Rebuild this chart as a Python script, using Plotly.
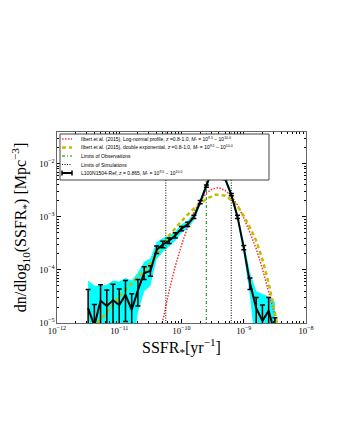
import numpy as np
import plotly.graph_objects as go

# log10 SSFR bin centres of the simulation histogram
sim_log_ssfr = [-11.5, -11.4, -11.3, -11.2, -11.1, -11.0, -10.9, -10.8, -10.7, -10.6,
                -10.5, -10.4, -10.3, -10.2, -10.1, -10.0, -9.9, -9.8, -9.7, -9.6,
                -9.5, -9.4, -9.3, -9.2, -9.1, -9.0, -8.9, -8.8, -8.7, -8.6, -8.5]
# log10 dn/dlog10(SSFR)
sim_log_phi = [-4.72, -5.05, -4.58, -4.68, -4.57, -4.66, -4.47, -4.75, -4.38, -4.06,
               -4.02, -3.62, -3.52, -3.45, -3.35, -3.22, -3.14, -3.00, -2.72, -2.42,
               -2.10, -1.90, -2.28, -2.58, -3.00, -3.58, -4.25, -4.72, -4.96, -4.77, -5.20]
# poisson error bars (dex)
sim_err_up = [0.35, 0.40, 0.30, 0.30, 0.30, 0.30, 0.27, 0.30, 0.20, 0.12,
              0.10, 0.07, 0.06, 0.05, 0.05, 0.04, 0.04, 0.03, 0.03, 0.02,
              0.02, 0.02, 0.02, 0.02, 0.03, 0.04, 0.10, 0.20, 0.30, 0.25, 0.30]
sim_err_lo = [1.0, 1.0, 1.0, 1.0, 1.0, 1.0, 0.5, 1.0, 0.30, 0.12,
              0.10, 0.07, 0.06, 0.05, 0.05, 0.04, 0.04, 0.03, 0.03, 0.02,
              0.02, 0.02, 0.02, 0.02, 0.03, 0.04, 0.12, 0.30, 1.0, 1.0, 1.0]
# shaded range (log10)
band_upper = [-4.20, -4.30, -4.30, -4.28, -4.20, -4.22, -4.15, -4.20, -4.05, -3.85,
              -3.78, -3.48, -3.40, -3.36, -3.27, -3.14, -3.07, -2.93, -2.66, -2.37,
              -2.06, -1.86, -2.24, -2.53, -2.94, -3.48, -4.05, -4.40, -4.45, -4.50, -4.60]
band_lower = [-5.6, -5.6, -5.6, -5.6, -5.6, -5.6, -5.6, -5.6, -4.80, -4.40,
              -4.30, -3.80, -3.66, -3.56, -3.45, -3.30, -3.22, -3.07, -2.79, -2.48,
              -2.15, -1.95, -2.33, -2.64, -3.07, -3.70, -4.50, -5.6, -5.6, -5.6, -5.6]

# Ilbert et al. (2015) log-normal
lognorm_log_ssfr = [-10.4, -10.3, -10.2, -10.1, -10.0, -9.9, -9.8, -9.7, -9.6, -9.5,
                    -9.4, -9.3, -9.2, -9.1, -9.0, -8.9, -8.8, -8.7, -8.6, -8.5, -8.45]
lognorm_log_phi = [-5.5, -4.94, -4.40, -3.93, -3.53, -3.19, -2.91, -2.70, -2.55, -2.47,
                   -2.45, -2.50, -2.61, -2.78, -3.02, -3.30, -3.60, -3.98, -4.40, -4.85, -5.1]

# Ilbert et al. (2015) double exponential
dexp_log_ssfr = [-11.35, -11.2, -11.0, -10.8, -10.6, -10.4, -10.2, -10.0, -9.8, -9.6,
                 -9.45, -9.3, -9.2, -9.1, -9.0, -8.9, -8.8, -8.7, -8.6, -8.5, -8.45]
dexp_log_phi = [-5.0, -4.80, -4.50, -4.25, -4.02, -3.72, -3.35, -3.08, -2.84, -2.66,
                -2.58, -2.60, -2.68, -2.80, -2.98, -3.20, -3.45, -3.80, -4.25, -4.80, -5.1]

obs_limits = [2.5e-10]
sim_limits = [5.6e-11, 6.3e-10]

legend_labels = [
    "Ilbert et al. (2015), Log-normal profile, <i>z</i> =0.8-1.0, <i>M</i><sub>*</sub> = 10<sup>9.5</sup> − 10<sup>10.0</sup>",
    "Ilbert et al. (2015), double exponential, <i>z</i> =0.8-1.0, <i>M</i><sub>*</sub> = 10<sup>9.5</sup> − 10<sup>10.0</sup>",
    "Limits of Observations",
    "Limits of Simulations",
    "L100N1504-Ref, <i>z</i> = 0.865, <i>M</i><sub>*</sub> = 10<sup>9.5</sup> − 10<sup>10.0</sup>",
]

x = 10 ** np.array(sim_log_ssfr)
y = 10 ** np.array(sim_log_phi)
err_plus = 10 ** (np.array(sim_log_phi) + np.array(sim_err_up)) - y
err_minus = y - 10 ** (np.array(sim_log_phi) - np.array(sim_err_lo))

fig = go.Figure()

fig.add_trace(go.Scatter(
    x=np.concatenate([x, x[::-1]]),
    y=np.concatenate([10 ** np.array(band_upper), (10 ** np.array(band_lower))[::-1]]),
    fill="toself", fillcolor="#00ffff", line=dict(width=0), mode="lines",
    hoverinfo="skip", showlegend=False,
))

fig.add_trace(go.Scatter(
    x=10 ** np.array(lognorm_log_ssfr), y=10 ** np.array(lognorm_log_phi),
    mode="lines", line=dict(color="#ff3030", width=1.5, dash="1.5px,1.5px"),
    showlegend=False,
))
fig.add_trace(go.Scatter(
    x=10 ** np.array(dexp_log_ssfr), y=10 ** np.array(dexp_log_phi),
    mode="lines", line=dict(color="#bfbf00", width=2.5, dash="4px,3px"),
    showlegend=False,
))

for xv in obs_limits:
    fig.add_trace(go.Scatter(
        x=[xv, xv], y=[1e-6, 1], mode="lines",
        line=dict(color="#008000", width=1, dash="3px,2px,1px,2px"), showlegend=False,
    ))
for xv in sim_limits:
    fig.add_trace(go.Scatter(
        x=[xv, xv], y=[1e-6, 1], mode="lines",
        line=dict(color="black", width=1, dash="1px,1.5px"), showlegend=False,
    ))

fig.add_trace(go.Scatter(
    x=x, y=y, mode="lines",
    line=dict(color="black", width=2),
    error_y=dict(type="data", symmetric=False, array=err_plus, arrayminus=err_minus,
                 color="black", thickness=1.5, width=2.5),
    showlegend=False,
))

# hand-built legend box (plotly's legend rows are too tall at this size)
x_l, y_b, h_px = 49, 315, 191
w_px = 249


def px(xp):
    return (xp - x_l) / w_px


def py(yp):
    return (y_b - yp) / h_px


shapes = [dict(type="rect", xref="paper", yref="paper", x0=px(52), x1=px(261),
               y0=py(172), y1=py(126), fillcolor="white",
               line=dict(color="#444", width=1), layer="above")]
row_y = [131, 139.5, 148, 156.5, 165]
styles = [
    dict(color="#ff3030", width=1.5, dash="1.5px,1.5px"),
    dict(color="#bfbf00", width=2.5, dash="4px,3px"),
    dict(color="#008000", width=1, dash="3px,2px,1px,2px"),
    dict(color="black", width=1, dash="1px,1.5px"),
    dict(color="black", width=2),
]
annotations = []
for ry, st, lab in zip(row_y, styles, legend_labels):
    shapes.append(dict(type="line", xref="paper", yref="paper", x0=px(54), x1=px(64),
                       y0=py(ry), y1=py(ry), line=st, layer="above"))
    annotations.append(dict(xref="paper", yref="paper", x=px(71), y=py(ry),
                            xanchor="left", yanchor="middle", text=lab, showarrow=False,
                            font=dict(family="Liberation Sans", size=5, color="black")))
for xe in (54, 64):
    shapes.append(dict(type="line", xref="paper", yref="paper", x0=px(xe), x1=px(xe),
                       y0=py(row_y[-1] + 2.5), y1=py(row_y[-1] - 2.5),
                       line=dict(color="black", width=1.5), layer="above"))

axis_common = dict(
    type="log", showgrid=False, zeroline=False, showline=True, linecolor="#666",
    linewidth=1, mirror="allticks", ticks="inside", ticklen=4, tickcolor="black",
    exponentformat="power", dtick=1,
    tickfont=dict(family="Liberation Serif", size=7, color="black"),
    minor=dict(ticks="inside", ticklen=2, tickcolor="black", dtick="D1"),
)

fig.update_layout(
    width=340, height=440,
    margin=dict(l=49, r=42, t=124, b=125),
    paper_bgcolor="white", plot_bgcolor="white",
    xaxis=dict(axis_common, range=[-12, -8],
               title=dict(text="SSFR<sub>*</sub>[yr<sup>−1</sup>]", standoff=6,
                          font=dict(family="Liberation Serif", size=16, color="black"))),
    yaxis=dict(axis_common, range=[-5, -1.4],
               title=dict(text="dn/dlog<sub>10</sub>(SSFR<sub>*</sub>) [Mpc<sup>−3</sup>]",
                          standoff=8,
                          font=dict(family="Liberation Serif", size=16, color="black"))),
    shapes=shapes,
    annotations=annotations,
)

fig.write_html("out.html")
